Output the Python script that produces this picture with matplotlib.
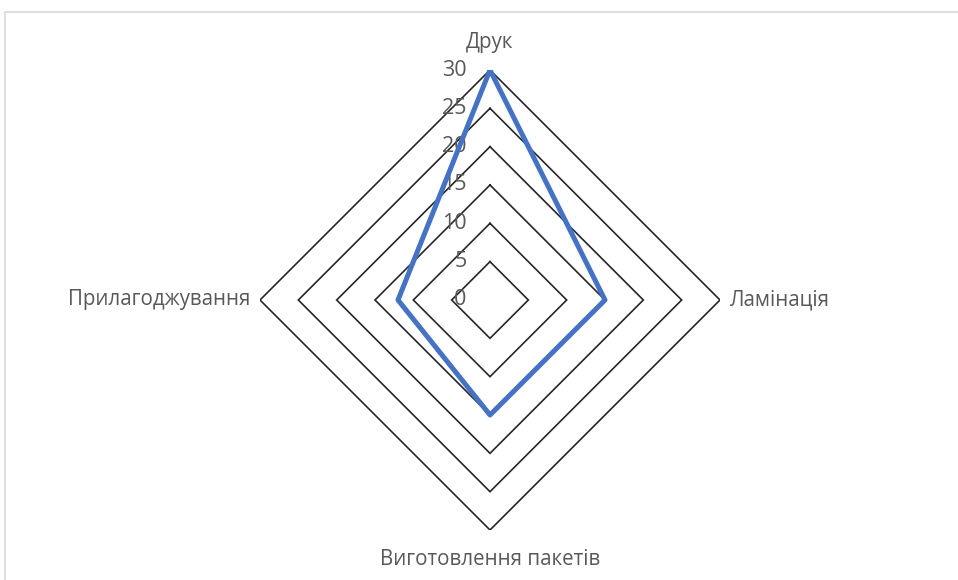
import numpy as np
import matplotlib
matplotlib.use("Agg")
import matplotlib.pyplot as plt
from matplotlib.patches import Rectangle

plt.rcParams['font.family'] = ['Open Sans', 'DejaVu Sans']

categories = ["Друк", "Ламінація", "Виготовлення пакетів", "Прилагоджування"]
values = [30, 15, 15, 12]
ring_levels = [5, 10, 15, 20, 25, 30]
tick_labels = ["0", "5", "10", "15", "20", "25", "30"]
tick_values = [0, 5, 10, 15, 20, 25, 30]

W, H = 958, 580
fig = plt.figure(figsize=(W / 100, H / 100), dpi=100)
fig.patch.set_facecolor("white")

# chart frame
fig.patches.append(Rectangle((4.5 / W, -0.05), 1.1, 1.05 - 11.5 / H,
                             transform=fig.transFigure, fill=False,
                             edgecolor="#d9d9d9", linewidth=1.2, zorder=0))

ax = fig.add_axes([260 / W, 50 / H, 460 / W, 460 / H], projection="polar")
ax.set_theta_offset(np.pi / 2)
ax.set_theta_direction(-1)
ax.set_ylim(0, 30)
ax.grid(False)
ax.spines["polar"].set_visible(False)
ax.set_xticks([])
ax.set_yticks([])
ax.patch.set_alpha(0)

n = len(categories)
angles = np.arange(n) * 2 * np.pi / n
closed = np.append(angles, angles[0])

text_color = "#595959"

# grid rings (straight-edged polygons)
for lvl in ring_levels:
    ax.plot(closed, [lvl] * (n + 1), color="#262626", linewidth=1.2,
            solid_joinstyle="miter", zorder=1)

# radial tick labels
for tv, tl in zip(tick_values, tick_labels):
    ax.annotate(tl, xy=(0, tv), xycoords="data", xytext=(-17, 0),
                textcoords="offset points", ha="right", va="center",
                fontsize=15.5, color=text_color, zorder=2)

# data series
vals = values + [values[0]]
ax.plot(closed, vals, color="#4472C4", linewidth=3.6,
        solid_joinstyle="round", zorder=3)

# category labels
offsets = [(0, 16, "center", "baseline"), (7, 0, "left", "center"),
           (0, -14, "center", "top"), (-7, 0, "right", "center")]
for ang, cat, (dx, dy, ha, va) in zip(angles, categories, offsets):
    ax.annotate(cat, xy=(ang, 30), xycoords="data", xytext=(dx, dy),
                textcoords="offset points", ha=ha, va=va,
                fontsize=14.8, color=text_color, annotation_clip=False)

fig.savefig("out.png", dpi=100)
